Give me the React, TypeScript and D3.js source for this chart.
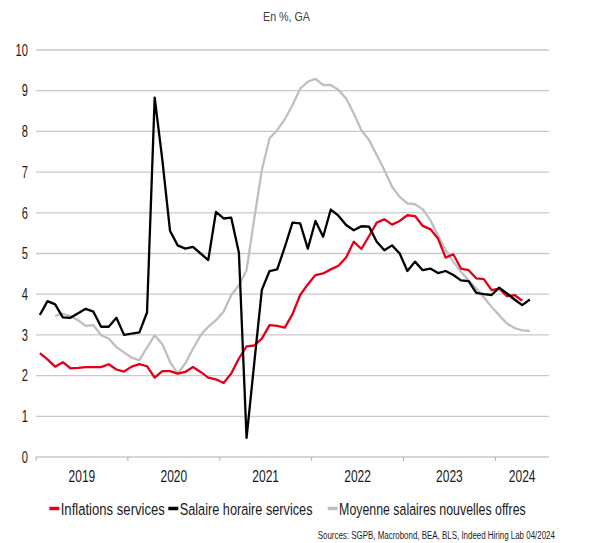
import React, { useLayoutEffect, useRef, useState } from "react";
import * as d3 from "d3";

// monthly categories, Jan 2019 -> Jul 2024
const months: Date[] = d3.timeMonth.range(new Date(2019, 0, 1), new Date(2024, 7, 1));
const yearTicks = ["2019", "2020", "2021", "2022", "2023", "2024"];
const yTicks = [0, 1, 2, 3, 4, 5, 6, 7, 8, 9, 10];

// Inflation services (from Jan 2019)
const inflationServices = [
  2.55, 2.4, 2.22, 2.33, 2.18, 2.19, 2.21, 2.21, 2.21, 2.28, 2.15, 2.1,
  2.22, 2.28, 2.23, 1.95, 2.11, 2.11, 2.05, 2.09, 2.21, 2.09, 1.95, 1.91,
  1.82, 2.05, 2.42, 2.72, 2.74, 2.91, 3.24, 3.22, 3.18, 3.51, 3.98, 4.24,
  4.47, 4.51, 4.61, 4.7, 4.9, 5.29, 5.11, 5.43, 5.76, 5.84, 5.71, 5.8,
  5.94, 5.92, 5.68, 5.6, 5.37, 4.9, 4.98, 4.63, 4.59, 4.39, 4.37, 4.1,
  4.14, 3.95, 3.98, 3.84,
];

// Salaire horaire services (from Jan 2019)
const salaireHoraire = [
  3.49, 3.83, 3.75, 3.43, 3.42, 3.53, 3.64, 3.57, 3.2, 3.2, 3.42, 3.0,
  3.03, 3.06, 3.55, 8.83, 7.3, 5.56, 5.2, 5.12, 5.16, 5.0, 4.84, 6.02,
  5.86, 5.88, 5.02, 0.47, 2.3, 4.11, 4.57, 4.61, 5.16, 5.76, 5.74, 5.12,
  5.8, 5.41, 6.08, 5.93, 5.7, 5.57, 5.67, 5.66, 5.29, 5.08, 5.2, 5.0,
  4.57, 4.8, 4.59, 4.63, 4.52, 4.57, 4.47, 4.34, 4.32, 4.03, 4.0, 3.98,
  4.16, 4.02, 3.87, 3.73, 3.87,
];

// Moyenne salaires nouvelles offres (from Mar 2019)
const nouvellesOffres = [
  null, null, 3.47, 3.52, 3.46, 3.36, 3.22, 3.24, 2.99, 2.91, 2.7, 2.57,
  2.44, 2.38, 2.69, 2.99, 2.77, 2.34, 2.05, 2.3, 2.66, 2.99, 3.2, 3.36,
  3.57, 3.98, 4.22, 4.59, 5.85, 7.05, 7.83, 8.03, 8.3, 8.65, 9.05, 9.22,
  9.29, 9.14, 9.14, 9.02, 8.81, 8.44, 8.03, 7.79, 7.42, 7.05, 6.64, 6.39,
  6.23, 6.21, 6.09, 5.82, 5.45, 5.08, 4.8, 4.55, 4.34, 4.14, 3.92, 3.69,
  3.48, 3.28, 3.17, 3.11, 3.1,
];

const series = [
  { name: "Inflations services", values: inflationServices, color: "#e2001a" },
  { name: "Salaire horaire services", values: salaireHoraire, color: "#000000" },
  { name: "Moyenne salaires nouvelles offres", values: nouvellesOffres, color: "#bfbfbf" },
];

const W = 596;
const H = 543;
const font = "'Liberation Sans', Arial, sans-serif";
const txt = "#1a1a1a";

interface FitTextProps {
  x: number;
  y: number;
  width: number; // width measured on the reference (condensed font)
  anchor?: "start" | "middle" | "end";
  fontSize: number;
  fill?: string;
  dy?: string;
  children: React.ReactNode;
}

// no condensed font installed: squeeze the text horizontally to the wanted width
const FitText: React.FC<FitTextProps> = ({ x, y, width, anchor = "start", fontSize, fill = txt, dy, children }) => {
  const ref = useRef<SVGTextElement | null>(null);
  const [k, setK] = useState(1);

  useLayoutEffect(() => {
    if (ref.current) {
      const len = ref.current.getComputedTextLength();
      if (len > 0) setK(width / len);
    }
  }, [width, children, fontSize]);

  return (
    <g transform={`translate(${x},${y}) scale(${k},1)`}>
      <text ref={ref} textAnchor={anchor} fontSize={fontSize} fill={fill} dy={dy}>
        {children}
      </text>
    </g>
  );
};

const App: React.FC = () => {
  const x = d3
    .scaleBand<Date>()
    .domain(months)
    .range([36, 549])
    .padding(0);
  const y = d3.scaleLinear().domain([0, 10]).range([457, 50]);

  const cx = (i: number) => (x(months[i]) || 0) + x.bandwidth() / 2;

  const line = d3
    .line<number | null>()
    .defined((d) => d != null)
    .x((_, i) => cx(i))
    .y((d) => y(d as number));

  const yearStarts = yearTicks.map((yr) => x(new Date(+yr, 0, 1)) || 0);
  const legendX = [49.3, 168.3, 327.7];
  const legendW = [104.3, 133, 186.6];

  // draw order: grey, red, black
  const drawOrder = [series[2], series[0], series[1]];

  return (
    <div style={{ position: "absolute", left: 0, top: 0 }}>
      <svg width={W} height={H} style={{ display: "block", fontFamily: font }}>
        <rect width={W} height={H} fill="#fff" />
        <FitText x={263} y={21} width={47} fontSize={12.5} fill="#404040">
          En %, GA
        </FitText>

        {yTicks.map((t) => (
          <g key={t}>
            <line x1={36} x2={549} y1={y(t)} y2={y(t)} stroke="#c9c9c9" strokeWidth={1.3} />
            <FitText x={28} y={y(t)} dy="0.36em" anchor="end" fontSize={16} width={String(t).length * 6.2}>
              {t}
            </FitText>
          </g>
        ))}

        {yearStarts.map((xs, i) => (
          <g key={yearTicks[i]}>
            <line x1={xs} x2={xs} y1={457} y2={461} stroke="#b0b0b0" strokeWidth={1} />
            <FitText
              x={(xs + (i < yearStarts.length - 1 ? yearStarts[i + 1] : 549)) / 2}
              y={481.5}
              anchor="middle"
              fontSize={16}
              width={26.7}
            >
              {yearTicks[i]}
            </FitText>
          </g>
        ))}

        {drawOrder.map((s) => (
          <path
            key={s.name}
            d={line(s.values as (number | null)[]) || ""}
            fill="none"
            stroke={s.color}
            strokeWidth={2.3}
            strokeLinejoin="round"
          />
        ))}

        {series.map((s, i) => (
          <g key={s.name}>
            <line
              x1={legendX[i]}
              x2={legendX[i] + 10}
              y1={508.5}
              y2={508.5}
              stroke={s.color}
              strokeWidth={3.5}
            />
            <FitText x={legendX[i] + 11.4} y={515} fontSize={17} width={legendW[i]}>
              {s.name}
            </FitText>
          </g>
        ))}

        <FitText x={317.7} y={539} fontSize={11} width={237.6}>
          Sources: SGPB, Macrobond, BEA, BLS, Indeed Hiring Lab 04/2024
        </FitText>
      </svg>
    </div>
  );
};

export default App;
